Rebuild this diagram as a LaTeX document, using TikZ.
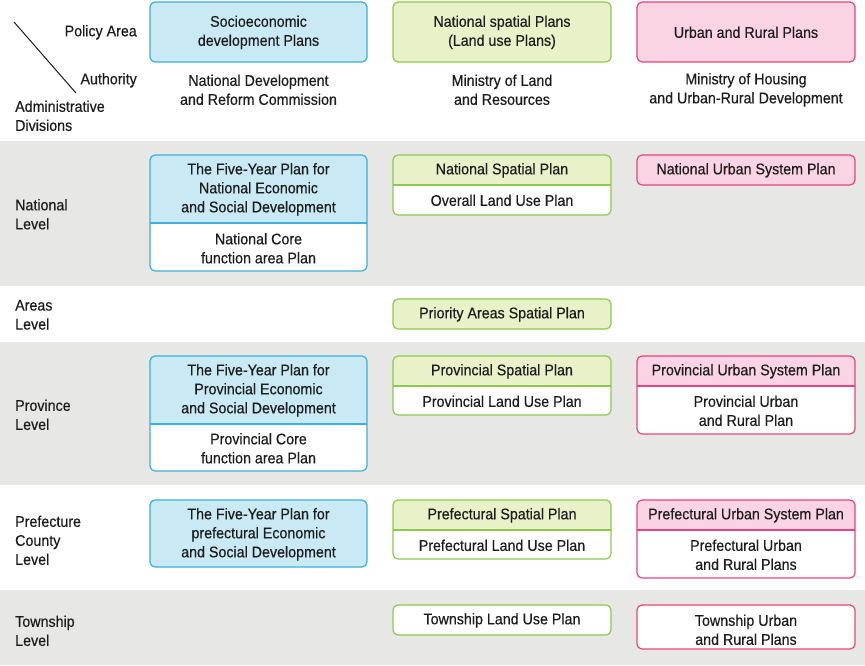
\documentclass[tikz,border=0pt]{standalone}
\usepackage{fontspec}
\setmainfont{Liberation Sans}[FakeStretch=0.92, FakeBold=0.4]
\begin{document}
\definecolor{ink}{HTML}{1C1C1C}
\definecolor{bandgray}{HTML}{E7E8E6}
\definecolor{bluef}{HTML}{C9E9F4}
\definecolor{bluel}{HTML}{3BB0DA}
\definecolor{greenf}{HTML}{E9F1C9}
\definecolor{greenl}{HTML}{8DC94E}
\definecolor{pinkf}{HTML}{FAD4E4}
\definecolor{pinkl}{HTML}{E8437B}
% split plan box: fill, border, x1, y1, x2, y of divider, y2
\newcommand\pbox[7]{%
  \fill[white, rounded corners=5pt] (#3,#4) rectangle (#5,#7);
  \begin{scope}
    \clip (#3,#4) rectangle (#5,#6);
    \fill[#1, rounded corners=5pt] (#3,#4) rectangle (#5,#7);
  \end{scope}
  \draw[#2, line width=1.2pt] (#3,#6) -- (#5,#6);
  \draw[#2, line width=1.2pt, rounded corners=5pt] (#3,#4) rectangle (#5,#7);}
% single plan box: fill, border, x1, y1, x2, y2
\newcommand\onebox[6]{%
  \draw[#2, fill=#1, line width=1.2pt, rounded corners=5pt] (#3,#4) rectangle (#5,#6);}
\begin{tikzpicture}[x=1pt, y=-1pt,
  txt/.style={font=\fontsize{15.5}{19}\selectfont, text=ink, align=center, inner sep=0pt, yshift=-0.3pt},
  rowlbl/.style={txt, align=left, anchor=west}]
\useasboundingbox (0,0) rectangle (865,665);
\fill[white] (0,0) rectangle (865,665);
% level bands
\fill[bandgray] (0,141) rectangle (865,286);
\fill[bandgray] (0,342) rectangle (865,485);
\fill[bandgray] (0,590) rectangle (865,665);

% header corner
\draw[ink, line width=1pt] (14,22) -- (76,93);
\node[txt, anchor=east] (hpolicy) at (137,32) {Policy Area};
\node[txt, anchor=east] (hauth) at (137,80) {Authority};
\node[rowlbl] (hadmin) at (15,115.5) {Administrative\\Divisions};

% header plan areas
\onebox{bluef}{bluel}{150}{2}{367}{62}
\onebox{greenf}{greenl}{393}{2}{611}{62}
\onebox{pinkf}{pinkl}{637}{2}{855}{62}
\node[txt] (hsocio) at (258.5,32) {Socioeconomic\\development Plans};
\node[txt] (hspatial) at (502,32) {National spatial Plans\\(Land use Plans)};
\node[txt] (hurban) at (746,32) {Urban and Rural Plans};

% authorities
\node[txt] (ndrc) at (258.5,89.5) {National Development\\and Reform Commission};
\node[txt] (mlr) at (502,89.5) {Ministry of Land\\and Resources};
\node[txt] (mohurd) at (746,89.5) {Ministry of Housing\\and Urban-Rural Development};

% national level
\node[rowlbl] (lnat) at (15,214) {National\\Level};
\pbox{bluef}{bluel}{150}{155}{367}{223}{271}
\node[txt] (natfive) at (258.5,189) {The Five-Year Plan for\\National Economic\\and Social Development};
\node[txt] (natcore) at (258.5,248) {National Core\\function area Plan};
\pbox{greenf}{greenl}{393}{155}{611}{185}{215}
\node[txt] (natspatial) at (502,170) {National Spatial Plan};
\node[txt] (natland) at (502,200) {Overall Land Use Plan};
\onebox{pinkf}{pinkl}{637}{155}{855}{185}
\node[txt] (naturban) at (746,170) {National Urban System Plan};

% areas level
\node[rowlbl] (larea) at (15,314.5) {Areas\\Level};
\onebox{greenf}{greenl}{393}{299}{611}{329}
\node[txt] (areaspatial) at (502,314) {Priority Areas Spatial Plan};

% province level
\node[rowlbl] (lprov) at (15,414.5) {Province\\Level};
\pbox{bluef}{bluel}{150}{356}{367}{424}{471}
\node[txt] (provfive) at (258.5,390) {The Five-Year Plan for\\Provincial Economic\\and Social Development};
\node[txt] (provcore) at (258.5,448) {Provincial Core\\function area Plan};
\pbox{greenf}{greenl}{393}{356}{611}{386}{415}
\node[txt] (provspatial) at (502,371) {Provincial Spatial Plan};
\node[txt] (provland) at (502,401) {Provincial Land Use Plan};
\pbox{pinkf}{pinkl}{637}{356}{855}{386}{434}
\node[txt] (provurban) at (746,371) {Provincial Urban System Plan};
\node[txt] (provrural) at (746,410.5) {Provincial Urban\\and Rural Plan};

% prefecture / county level
\node[rowlbl] (lpref) at (15,540) {Prefecture\\County\\Level};
\onebox{bluef}{bluel}{150}{500}{367}{567}
\node[txt] (preffive) at (258.5,534) {The Five-Year Plan for\\prefectural Economic\\and Social Development};
\pbox{greenf}{greenl}{393}{500}{611}{530}{559}
\node[txt] (prefspatial) at (502,515) {Prefectural Spatial Plan};
\node[txt] (prefland) at (502,545) {Prefectural Land Use Plan};
\pbox{pinkf}{pinkl}{637}{500}{855}{530}{578}
\node[txt] (prefurban) at (746,515) {Prefectural Urban System Plan};
\node[txt] (prefrural) at (746,554.5) {Prefectural Urban\\and Rural Plans};

% township level
\node[rowlbl] (ltown) at (15,630.5) {Township\\Level};
\onebox{white}{greenl}{393}{605}{611}{635}
\node[txt] (townland) at (502,620) {Township Land Use Plan};
\onebox{white}{pinkl}{637}{605}{855}{649}
\node[txt] (townrural) at (746,629.5) {Township Urban\\and Rural Plans};
\end{tikzpicture}
\end{document}
